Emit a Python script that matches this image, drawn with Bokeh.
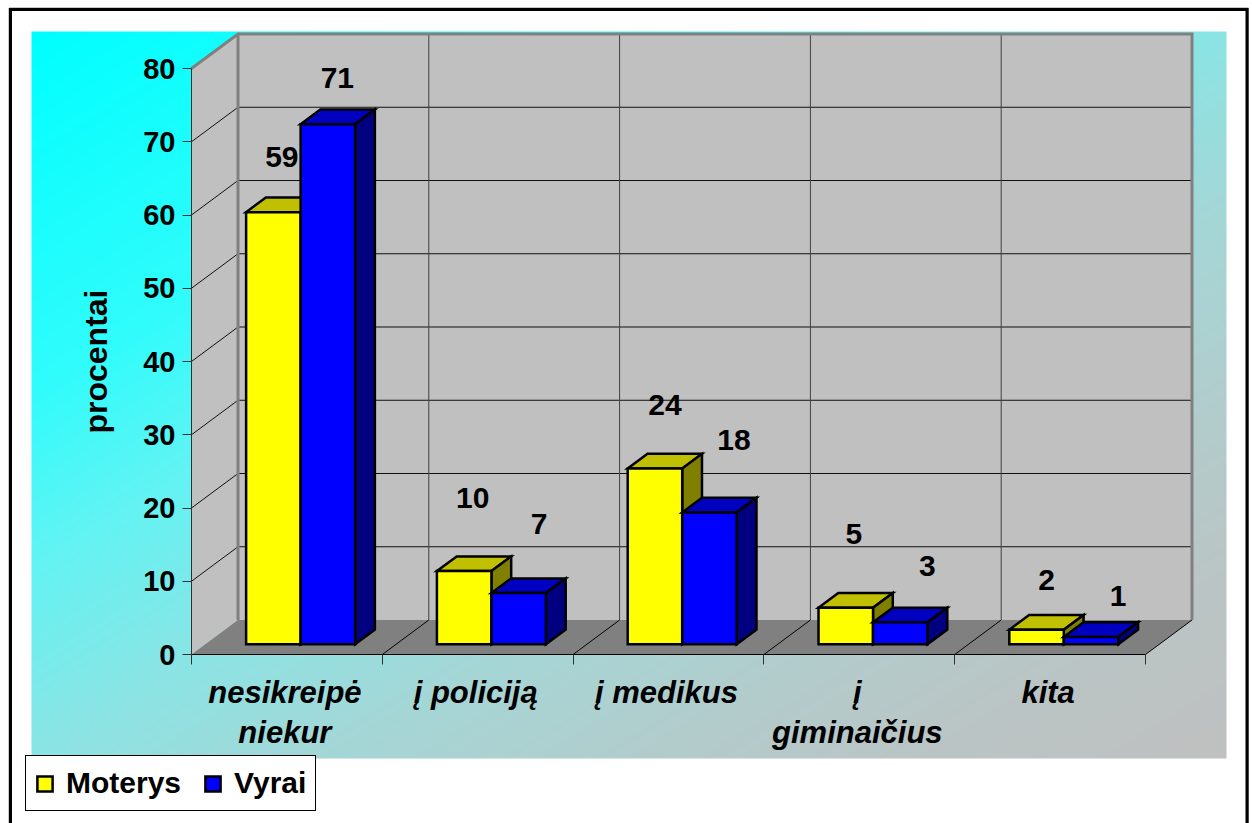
import numpy as np
from bokeh.plotting import figure
from bokeh.embed import file_html
from bokeh.resources import INLINE
from bokeh.core.properties import value
from bokeh.models import (ColumnDataSource, FixedTicker, Legend, LegendItem)

# ---- data ----
categories = ["nesikreipė\nniekur", "į policiją", "į medikus", "į\ngiminaičius", "kita"]
women = [59, 10, 24, 5, 2]
men = [71, 7, 18, 3, 1]
series_names = ["Moterys", "Vyrai"]
y_ticks = [0, 10, 20, 30, 40, 50, 60, 70, 80]
y_title = "procentai"

# ---- hand placed data label offsets (px from the bar's top-centre), as in the reference ----
women_lab_dx = [8.5, 8.5, 10, 8, 10]
women_lab_dy = [55, 73, 64, 74, 50]
men_lab_dx = [9.5, 20.5, 24.5, 27, 27]
men_lab_dy = [46, 69, 72, 56, 41]

# ---- geometry ----
W, H = 1252, 823
PX_CAT = 190.8      # px per category
PX_UNIT = 7.325     # px per percent
X0, Y0 = 191, 654   # where the value origin sits in the figure
FONT = "Liberation Sans"
DX = 46.5 / PX_CAT  # depth of the floor in x units
DY = 34.5 / PX_UNIT  # depth of the floor in y units
F0, F1 = 0.295, 0.72  # bar front / back plane as fraction of depth
BAR_W = 54.5 / PX_CAT


def xd(px):
    return (px - X0) / PX_CAT


def yd(px):
    return (Y0 - px) / PX_UNIT


n = len(categories)
YMAX = y_ticks[-1]

p = figure(width=W, height=H, x_range=(xd(0), xd(W)), y_range=(yd(H), yd(0)), output_backend="svg",
           toolbar_location=None, min_border=0, background_fill_color="white", border_fill_color="white",
           outline_line_color=None)
p.grid.visible = False

# ---- gradient background ----
gh, gw = 364, 598
yy, xx = np.mgrid[0:gh, 0:gw]
s = (xx / (gw - 1) + (1 - yy / (gh - 1))) / 2
stops = [0, .25, .37, .5, .62, .75, .87, 1]
r = np.interp(s, stops, [0, 50, 100, 140, 165, 178, 187, 192]).astype(np.uint32)
g = np.interp(s, stops, [255, 252, 243, 228, 215, 205, 197, 192]).astype(np.uint32)
img = ((255 << 24) | (g << 16) | (g << 8) | r).astype(np.uint32)
p.image_rgba(image=[img], x=xd(31), y=yd(758), dw=xd(1226) - xd(31), dh=yd(31) - yd(758))

# ---- page frame: open at the bottom, as in the reference ----
p.line([xd(8.5), xd(8.5), xd(1248), xd(1248)], [yd(840), yd(7.5), yd(7.5), yd(840)], line_color="#909090", line_width=1)
p.line([xd(10), xd(10), xd(1246.5), xd(1246.5)], [yd(840), yd(9), yd(9), yd(840)], line_color="black", line_width=3,
       line_join="miter")

# ---- walls ----
p.patch([0, DX, DX, 0], [0, DY, YMAX + DY, YMAX], fill_color="#C0C0C0", line_color=None)
p.patch([DX, n + DX, n + DX, DX], [DY, DY, YMAX + DY, YMAX + DY], fill_color="#C0C0C0", line_color=None)
p.patch([0, n, n + DX, DX], [0, 0, DY, DY], fill_color="#808080", line_color=None)

# ---- gridlines ----
gt = y_ticks[1:-1]
p.multi_line([[0, DX, n + DX] for _ in gt], [[v, v + DY, v + DY] for v in gt], line_color="#101010", line_width=1)
inner = list(range(1, n))
p.multi_line([[i + DX, i + DX] for i in inner], [[DY, YMAX + DY] for _ in inner], line_color="#404040", line_width=1)
p.multi_line([[i, i + DX] for i in inner + [n]], [[0, DY] for _ in inner + [n]], line_color="black", line_width=1)
# wall edges
p.line([0, DX, n + DX, n + DX], [YMAX, YMAX + DY, YMAX + DY, DY], line_color="#808080", line_width=3, line_join="miter")
p.line([DX, DX], [DY, YMAX + DY], line_color="#808080", line_width=3)


# ---- 3D bars ----
def draw_bars(vals, side_sign, front, top, side):
    dxa, dya = (F1 - F0) * DX, (F1 - F0) * DY
    base = F0 * DY
    lefts, rights = [], []
    top_x, top_y, side_x, side_y = [], [], [], []
    for i, v in enumerate(vals):
        c = i + 0.5 + F0 * DX
        l = c - BAR_W if side_sign < 0 else c
        rr = l + BAR_W
        lefts.append(l)
        rights.append(rr)
        tv = base + v
        top_x.append([l, rr, rr + dxa, l + dxa])
        top_y.append([tv, tv, tv + dya, tv + dya])
        side_x.append([rr, rr + dxa, rr + dxa, rr])
        side_y.append([base, base + dya, tv + dya, tv])
    st = dict(line_color="black", line_width=2.5, line_join="miter")
    p.patches(top_x, top_y, fill_color=top, **st)
    p.patches(side_x, side_y, fill_color=side, **st)
    src = ColumnDataSource(dict(left=lefts, right=rights, top=[base + v for v in vals], bottom=[base] * len(vals)))
    return p.quad(left="left", right="right", top="top", bottom="bottom", source=src, fill_color=front, **st), lefts


r_w, left_w = draw_bars(women, -1, "#FFFF00", "#C0C000", "#808000")
r_m, left_m = draw_bars(men, 1, "#0000FF", "#0000C0", "#000080")


# ---- data labels ----
def labels(vals, lefts, dxs, dys):
    src = ColumnDataSource(dict(x=[l + BAR_W / 2 for l in lefts], y=[F0 * DY + v for v in vals],
                                t=[str(v) for v in vals], xo=dxs, yo=[-d for d in dys]))
    p.text(x="x", y="y", text="t", x_offset="xo", y_offset="yo", source=src, text_align="center",
           text_baseline="middle", text_font=value(FONT), text_font_style="bold", text_font_size="30px",
           text_color="black")


labels(women, left_w, women_lab_dx, women_lab_dy)
labels(men, left_m, men_lab_dx, men_lab_dy)

# ---- category labels ----
p.text(x=[i + 0.5 for i in range(n)], y=[0] * n, text=categories, x_offset=-2, y_offset=20,
       text_align="center", text_baseline="top", text_font=value(FONT), text_font_style="bold italic",
       text_font_size="31px", text_line_height=1.15, text_color="black")

# ---- axes drawn by Bokeh at data locations ----
ya = p.yaxis[0]
ya.fixed_location = 0
ya.ticker = FixedTicker(ticks=y_ticks)
ya.bounds = (0, YMAX)
ya.axis_line_color = "#303030"
ya.major_tick_line_color = "#303030"
ya.major_tick_in = 0
ya.major_tick_out = 9
ya.minor_tick_line_color = None
ya.major_label_standoff = 7
ya.major_label_text_font = FONT
ya.major_label_text_font_style = "bold"
ya.major_label_text_font_size = "29px"
ya.major_label_text_color = "black"
ya.axis_label = y_title
ya.axis_label_text_font = FONT
ya.axis_label_text_font_style = "bold"
ya.axis_label_text_font_size = "32px"
ya.axis_label_text_color = "black"
ya.axis_label_standoff = 26

xa = p.xaxis[0]
xa.fixed_location = 0
xa.ticker = FixedTicker(ticks=list(range(n + 1)))
xa.bounds = (0, n)
xa.axis_line_color = "black"
xa.major_tick_line_color = "#303030"
xa.major_tick_in = 0
xa.major_tick_out = 10
xa.minor_tick_line_color = None
xa.major_label_text_font_size = "0px"
xa.major_label_text_color = None

# ---- legend ----
legend = Legend(items=[LegendItem(label=series_names[0], renderers=[r_w]), LegendItem(label=series_names[1], renderers=[r_m])],
                orientation="horizontal", location=(25, 12), margin=0, padding=9, spacing=22,
                glyph_width=19, glyph_height=19, label_standoff=12, label_height=36,
                label_text_font=FONT, label_text_font_style="bold", label_text_font_size="30px",
                label_text_color="black", border_line_color="black", border_line_width=1.5, border_line_alpha=1,
                background_fill_color="white", background_fill_alpha=1)
p.add_layout(legend, "center")

open("out.html", "w").write(file_html(p, INLINE))
